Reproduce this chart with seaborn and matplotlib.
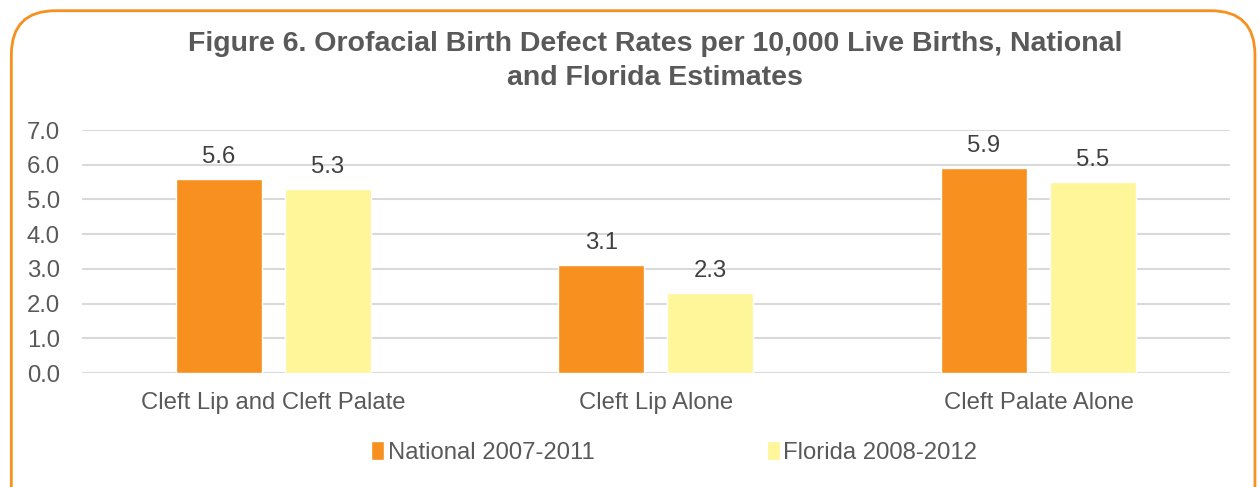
import pandas as pd
import matplotlib.pyplot as plt
import seaborn as sns
from matplotlib.patches import FancyBboxPatch

# data
categories = ["Cleft Lip and Cleft Palate", "Cleft Lip Alone", "Cleft Palate Alone"]
national = [5.6, 3.1, 5.9]
florida = [5.3, 2.3, 5.5]
series = ["National 2007-2011", "Florida 2008-2012"]
colors = ["#F7901E", "#FFF599"]

df = pd.DataFrame({
    "category": categories * 2,
    "rate": national + florida,
    "series": [series[0]] * 3 + [series[1]] * 3,
})

sns.set_style("white")
plt.rcParams["font.family"] = ["Liberation Sans", "DejaVu Sans"]

fig = plt.figure(figsize=(12.6, 4.87), dpi=100)
ax = fig.add_axes([0.065, 0.234, 0.911, 0.499])

sns.barplot(data=df, x="category", y="rate", hue="series", palette=colors,
            width=0.57, gap=0.21, saturation=1, ax=ax, legend=True)

for cont in ax.containers:
    ax.bar_label(cont, fmt="%.1f", padding=8, fontsize=17.2, color="#404040")

ax.set_ylim(0, 7)
ax.set_yticks(range(0, 8))
ax.set_yticklabels([f"{v:.1f}" for v in range(0, 8)])
ax.yaxis.grid(True, color="#D9D9D9", linewidth=1.5)
ax.set_axisbelow(True)
for s in ax.spines.values():
    s.set_visible(False)
ax.tick_params(axis="y", length=0, pad=16, labelsize=17.2, labelcolor="#595959")
ax.tick_params(axis="x", length=0, pad=14, labelsize=17.2, labelcolor="#595959")
ax.set_xlabel("")
ax.set_ylabel("")

leg = ax.legend(loc="upper center", bbox_to_anchor=(0.516, -0.19), ncol=2, frameon=False,
                fontsize=17.2, handlelength=0.55, handleheight=0.85, handletextpad=0.15,
                columnspacing=7.2)
for t in leg.get_texts():
    t.set_color("#595959")

fig.text(0.52, 0.875, "Figure 6. Orofacial Birth Defect Rates per 10,000 Live Births, National\nand Florida Estimates",
         ha="center", va="center", fontsize=20.5, fontweight="bold", color="#595959",
         linespacing=1.4, multialignment="center")

# rounded orange frame, bottom runs off the image
frame = FancyBboxPatch((0.009, -0.1), 0.987, 1.078, boxstyle="round,pad=0,rounding_size=0.035",
                       transform=fig.transFigure, facecolor="none", edgecolor="#F7901E",
                       linewidth=2, mutation_aspect=2.59)
fig.patches.append(frame)

fig.savefig("out.png", dpi=100)
